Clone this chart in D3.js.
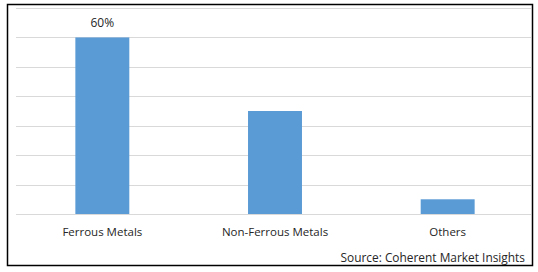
<!DOCTYPE html>
<html>
<head>
<meta charset="utf-8">
<script src="https://cdn.jsdelivr.net/npm/d3@7"></script>
<style>
	body { margin: 0; background: #fff; }
	svg { display: block; }
	text { font-family: "Open Sans", "DejaVu Sans", sans-serif; fill: #262626; }
</style>
</head>
<body>
<div class="chart"></div>
<script>
const categories = ["Ferrous Metals", "Non-Ferrous Metals", "Others"];
const shares = [60, 35, 5];
const valueLabels = ["60%", "", ""];
const yTicks = [0, 10, 20, 30, 40, 50, 60, 70];
const sourceText = "Source: Coherent Market Insights";

(function () {
	const widthSVG = 538,
		heightSVG = 272;

	const svg = d3.select(".chart").append("svg")
		.attr("width", widthSVG)
		.attr("height", heightSVG);

	// outer frame
	svg.append("rect")
		.attr("x", 7.5)
		.attr("y", 4.5)
		.attr("width", 525)
		.attr("height", 261)
		.attr("fill", "none")
		.attr("stroke", "#000")
		.attr("stroke-width", 1.5);

	const x = d3.scaleBand()
		.domain(categories)
		.range([16, 534])
		.paddingInner(0.6875)
		.paddingOuter(0.34375);

	const y = d3.scaleLinear()
		.domain([0, 70])
		.range([214, 8]);

	// gridlines
	svg.append("g")
		.selectAll("line")
		.data(yTicks)
		.enter().append("line")
		.attr("x1", 16)
		.attr("x2", 531)
		.attr("y1", function (d) { return Math.round(y(d)) + 0.5; })
		.attr("y2", function (d) { return Math.round(y(d)) + 0.5; })
		.attr("stroke", "#d9d9d9")
		.attr("stroke-width", 1);

	const data = categories.map(function (c, i) {
		return {name: c, value: shares[i], label: valueLabels[i]};
	});

	svg.selectAll(".bar")
		.data(data)
		.enter().append("rect")
		.attr("class", "bar")
		.attr("x", function (d) { return x(d.name); })
		.attr("y", function (d) { return y(d.value); })
		.attr("width", x.bandwidth())
		.attr("height", function (d) { return y(0) - y(d.value); })
		.attr("fill", "#5b9bd5");

	svg.selectAll(".vlabel")
		.data(data)
		.enter().append("text")
		.attr("class", "vlabel")
		.attr("x", function (d) { return x(d.name) + x.bandwidth() / 2; })
		.attr("y", function (d) { return y(d.value) - 10; })
		.attr("text-anchor", "middle")
		.attr("font-size", 12)
		.text(function (d) { return d.label; });

	// category axis labels
	svg.selectAll(".xlabel")
		.data(categories)
		.enter().append("text")
		.attr("class", "xlabel")
		.attr("x", function (d) { return x(d) + x.bandwidth() / 2; })
		.attr("y", 236)
		.attr("text-anchor", "middle")
		.attr("font-size", 11.5)
		.text(function (d) { return d; });

	svg.append("text")
		.attr("x", 525)
		.attr("y", 262)
		.attr("text-anchor", "end")
		.attr("font-size", 11.9)
		.text(sourceText);
}());
</script>
</body>
</html>
